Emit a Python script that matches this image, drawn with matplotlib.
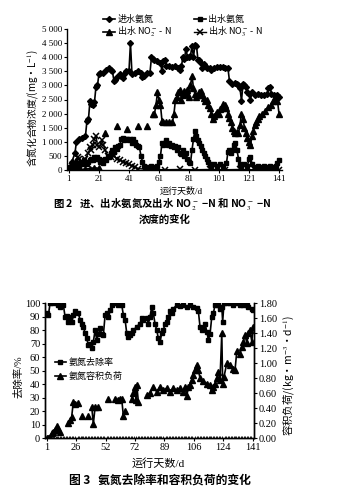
import numpy as np
import matplotlib
matplotlib.use("Agg")
import matplotlib.pyplot as plt

plt.rcParams['font.family'] = ['Liberation Serif', 'Noto Sans CJK SC', 'DejaVu Sans']
plt.rcParams['mathtext.fontset'] = 'stix'

nan = np.nan
CJK = ['Noto Sans CJK SC', 'DejaVu Sans']

# ---------------- Figure 2 data (day, mg/L) ----------------
inf_day = [1, 3, 5, 6, 8, 10, 12, 13, 14, 15, 16, 17, 18, 19, 20, 21, 22, 24, 26, 28, 29, 30, 31, 32, 33,
           35, 36, 37, 38, 39, 41, 42, 43, 45, 47, 49, 50, 51, 53, 55, 56, 57, 58, 60, 62, 63, 64, 65, 66,
           68, 70, 72, 74, 75, 76, 77, 78, 79, 80, 81, 82, 83, 84, 85, 86, 87, 88, 89, 90, 91, 92, 93, 95,
           96, 98, 100, 102, 104, 105, 107, 108, 110, 112, 113, 114, 115, 116, 117, 118, 119, 120, 121,
           122, 123, 125, 127, 129, 131, 133, 134, 135, 136, 138, 140, 141]
inf_nh4 = [50, 300, 600, 1000, 1100, 1150, 1200, 1750, 1800, 2450, 2350, 2300, 2400, 2950, 3000, 3400,
           3450, 3450, 3550, 3600, 3550, 3500, 3150, 3200, 3300, 3400, 3350, 3250, 3400, 3500, 3500, 4500,
           3400, 3450, 3500, 3450, 3300, 3350, 3450, 3450, 4000, 3950, 3900, 3850, 3800, 3500, 3850, 3900,
           3700, 3700, 3650, 3700, 3600, 3550, 3700, 4000, 3950, 4300, 4000, 4000, 4050, 4400, 4000, 4450,
           4400, 3900, 3900, 3800, 3600, 3750, 3700, 3600, 3600, 3550, 3600, 3650, 3650, 3650, 3600, 3600,
           3150, 3050, 3100, 3050, 3000, 2900, 2450, 3050, 3000, 2950, 2750, 2700, 2500, 2750, 2650, 2700,
           2650, 2650, 2700, 2900, 2950, 2700, 2650, 2650, 2600]

eff_day = list(range(1, 53)) + [54, 56, 58, 60, 61, 62, 63, 64, 65, 66, 67, 68, 69, 70, 71, 72, 73, 74,
           75, 76, 77, 78, 79, 80, 81, 82, 83, 84, 85, 86, 87, 88, 89, 90, 91, 92, 93, 94, 95, 96, 98,
           100, 102, 104, 106, 107, 108, 109, 110, 111, 112, 113, 114, 115, 116, 118, 120, 121, 122, 123,
           125, 127, 129, 131, 133, 135, 137, 139, 140, 141]
eff_nh4 = [50, 100, 150, 80, 200, 100, 250, 150, 300, 200, 350, 250, 200, 300, 350, 400, 350, 450, 400,
           450, 400, 300, 350, 250, 400, 350, 500, 450, 600, 700, 650, 800, 750, 850, 900, 1100, 1150, 1050,
           1100, 1100, 1050, 1100, 950, 1100, 1000, 900, 850, 800, 500, 300, 150, 120,
           100, 150, 100, 150, 300, 500, 950, 900, 950, 1050, 900, 950, 850, 900, 800, 850, 700, 800, 600,
           550, 700, 500, 600, 400, 300, 250, 700, 1100, 1400, 1200, 1050, 950, 850, 700, 600, 500, 400,
           300, 200, 150, 200, 150, 200, 150, 250, 650, 700, 600, 700, 900, 950, 700, 400, 200, 150, 200,
           150, 400, 450, 200, 100, 150, 120, 150, 100, 150, 120, 150, 250, 350]

no2_day = [1, 3, 5, 8, 12, 15, 18, 21, 22, 25, 26, 33, 34, 40, 41, 47, 48, 53, 54,
           57, 58, 59, 60, 61, 62, 63, 64, 66, 68, 70, 71, 72, 73, 74, 75, 76, 77, 78, 79, 80, 81, 82,
           83, 84, 85, 86, 87, 88, 89, 90, 91, 92, 93, 94, 95, 96, 97, 98, 99, 100, 101, 102, 103, 104,
           105, 106, 107, 108, 109, 110, 111, 112, 113, 114, 115, 116, 117, 118, 119, 120, 121, 122, 123,
           124, 125, 126, 127, 128, 130, 132, 134, 136, 137, 138, 139, 140, 141]
no2_n = [0, 20, 30, 20, 30, 50, 80, 60, nan, 1300, nan, 1550, nan, 1450, nan, 1550, nan, 1550, nan,
         2000, 2000, 2300, 2750, 2500, 2300, 1750, 1700, 1700, 1700, 1700, 2000, 2500, 2600, 2750, 2850,
         2500, 2650, 2800, 2700, 2850, 2600, 3000, 3350, 2900, 2700, 2600, 2650, 2750, 2800, 2650, 2550,
         2450, 2500, 2300, 2200, 2000, 1800, 1900, 2000, 2050, 2000, 2150, 2200, 2350, 2300, 2200, 2000,
         1850, 1700, 1500, 1400, 1300, 1350, 1300, 1600, 2000, 1800, 1500, 1300, 1150, 1000, 900, 1200,
         1400, 1600, 1700, 1800, 1900, 2000, 2100, 2250, 2300, 2450, 2500, 2600, 2450, 2000]

no3_day = [1, 3, 5, 7, 8, 10, 12, 14, 15, 16, 17, 18, 19, 20, 21, 23, 24, 25, 27, 29, 31, 33, 35, 37, 39,
           41, 43, 45, 47, 55, 65, 75, 85, 95, 105, 115, 125, 135, 141]
no3_n = [50, 150, 300, 450, 400, 250, 400, 600, 800, 700, 900, 1100, 1200, 900, 800, 1050, 900, 700, 500,
         450, 500, 400, 350, 300, 250, 200, 150, 100, 50, 20, 10, 20, 10, 20, 10, 20, 10, 20, 10]

f2_xticks = [1, 21, 41, 61, 81, 101, 121, 141]
f2_yticks = [0, 500, 1000, 1500, 2000, 2500, 3000, 3500, 4000, 4500, 5000]
f2_ylabels = ['0', '500', '1 000', '1 500', '2 000', '2 500', '3 000', '3 500', '4 000', '4 500', '5 000']

# ---------------- Figure 3 data (category position) ----------------
rem_pos = [1, 2.1, 3.3, 5.5, 7.8, 8.9, 10, 12.3, 13.5, 14.6, 15.7, 16.9, 18, 19.1, 20.3, 22.5, 23.7,
           24.8, 25.9, 27.1, 28.2, 29.3, 30.5, 31.6, 32.7, 33.9, 35, 36.1, 37.3, 38.4, 39.5, 40.7, 41.8,
           42.9, 44.1, 45.2, 47.5, 49.7, 52, 53.1, 54.3, 55.4, 56.5, 57.7, 58.8, 59.9, 62.2, 64.4, 65.6,
           66.7, 69, 70.1, 71.2, 72.4, 73.5, 74.6, 75.8, 76.9, 78, 79.2, 80.3, 81.4, 82.6, 83.7, 84.8,
           85.9, 87.1, 89.4, 91.6, 93.9, 96.2, 98.4, 100.7, 103, 104.1, 105.2, 106.4, 107.5, 108.6,
           109.8, 110.9, 112, 113.2, 114.3, 115.4, 116.6, 117.7, 118.8, 120, 120.6, 121.5, 123.4, 125.6,
           127.9, 130.2, 132.4, 134.7, 137, 138.1, 140.4, 141.5]
rem_val = [92.6, 91, 100, 100, 100, 98.8, 97.5, 98.8, 90, 90.6, 86.4, 90, 86, 91, 94, 92.6, 87.7, 85,
           82.7, 77.8, 74, 69, 70, 66.7, 71.6, 80, 73, 77, 81.5, 77, 76.5, 91.4, 92.6, 90, 95, 98.8, 100,
           98.8, 98.8, 91.4, 87.7, 77.8, 75, 76.5, 78, 80, 82.7, 85, 89, 87.7, 89, 85, 90, 97.5, 92.6, 85,
           80, 74, 71.6, 77.8, 80, 85, 86.4, 90, 94, 92.6, 96, 98.8, 98, 98.8, 97.5, 98.8, 97.5, 96.5, 94,
           82.7, 80, 81.5, 85, 79, 73, 77, 90, 92.6, 98.8, 100, 99, 96, 97.5, 86.4, 100, 100, 100, 99,
           100, 99, 98.8, 98.8, 97.5, 96, 95]

load_pos = [1, 2.1, 3.3, 4.4, 5.5, 6.7, 7.8, 8.9, 10, 12, 15.7, 16.9, 18, 19.1, 20.3, 22.5, 23.5, 24.8,
            26, 29.3, 30.5, 31.6, 32.7, 33.9, 35, 36.1, 38, 42.9, 45, 47.5, 49.7, 50.9, 52, 53.1, 54.3,
            56, 58.8, 59.9, 61, 61.7, 62.2, 63.3, 66, 69, 71.2, 73.5, 75.8, 78, 80.3, 82.6, 84.8, 87.1,
            89.4, 91.6, 93.9, 95, 96.2, 97.3, 98.4, 99.6, 100.7, 101.8, 103, 104.1, 105.2, 107.5, 109.8,
            112, 113.2, 114.3, 115.4, 116.6, 117.7, 118.8, 120, 120.6, 121.5, 123.4, 125.6, 127.9, 129,
            130.2, 132.4, 133.6, 134.7, 135.8, 137, 138.1, 139.2, 140.4, 141.5]
load_val = [0.0, 0.0, 0.02, 0.07, 0.09, 0.11, 0.16, 0.12, 0.09, nan, 0.20, 0.24, 0.29, 0.49, 0.46, 0.47,
            nan, 0.30, nan, 0.30, nan, 0.42, 0.19, 0.42, nan, 0.42, nan, 0.53, nan, 0.53, 0.51, 0.53, 0.52,
            0.30, 0.36, nan, 0.53, 0.60, 0.69, 0.51, 0.71, 0.49, nan, 0.58, 0.60, 0.69, 0.62, 0.69, 0.64,
            0.67, 0.62, 0.67, 0.64, 0.67, 0.62, 0.69, 0.56, 0.69, 0.71, 0.78, 0.84, 0.91, 0.98, 0.91, 0.80,
            0.76, 0.73, 0.71, 0.64, 0.69, 0.73, 0.80, 0.89, 0.78, 1.40, 0.73, 0.82, 1.00, 0.98, 0.93, 0.91,
            1.16, 1.13, 1.22, 1.29, 1.38, 1.27, 1.40, 1.44, 1.29, 1.49]

f3_tickpos = [1, 21, 41, 61, 81, 101, 121, 141]
f3_ticklabels = ['1', '26', '52', '72', '89', '106', '124', '141']
f3_lticks = [0, 10, 20, 30, 40, 50, 60, 70, 80, 90, 100]
f3_rticks = [0.0, 0.2, 0.4, 0.6, 0.8, 1.0, 1.2, 1.4, 1.6, 1.8]

# ---------------- drawing ----------------
W, H = 352, 499
fig = plt.figure(figsize=(W / 100, H / 100), dpi=100)

def fx(px):
    return px / W

def fy(py):
    return 1 - py / H

k = 'black'
# ---- Figure 2 ----
ax1 = fig.add_axes([fx(67), fy(170), (282 - 67) / W, 141 / H])
ms = 3.0
l_inf, = ax1.plot(inf_day, inf_nh4, color=k, lw=1.2, marker='D', ms=ms, mfc=k, mec=k)
l_eff, = ax1.plot(eff_day, eff_nh4, color=k, lw=1.2, marker='s', ms=ms + 0.4, mfc=k, mec=k)
l_no2, = ax1.plot(no2_day, no2_n, color=k, lw=1.2, marker='^', ms=ms + 0.8, mfc=k, mec=k)
l_no3, = ax1.plot(no3_day, no3_n, color=k, lw=1.0, marker='x', ms=ms + 0.8, mew=1.1, mfc=k, mec=k)
ax1.set_xlim(-0.3, 143)
ax1.set_ylim(0, 5000)
ax1.set_xticks(f2_xticks)
ax1.set_xticklabels([str(t) for t in f2_xticks])
ax1.set_yticks(f2_yticks)
ax1.set_yticklabels(f2_ylabels)
for s in ['top', 'right']:
    ax1.spines[s].set_visible(False)
for s in ['left', 'bottom']:
    ax1.spines[s].set_linewidth(1.0)
ax1.tick_params(axis='both', labelsize=6.5, length=2, width=0.8, pad=1.5, direction='out')

fig.legend(handles=[l_inf, l_no2, l_eff, l_no3],
           labels=['进水氨氮', '出水 NO$_2^-$ - N', '出水氨氮', '出水 NO$_3^-$ - N'],
           ncol=2, loc='center', bbox_to_anchor=(fx(183), fy(27)), frameon=False,
           prop={'family': CJK, 'size': 6.5}, handlelength=1.3, handletextpad=0.3,
           columnspacing=2.4, labelspacing=0.1, borderpad=0.1)

fig.text(fx(33), fy(108), '含氮化合物浓度/(mg·L$^{-1}$)', rotation=90, ha='center', va='center',
         fontsize=7, family=CJK)
fig.text(fx(181), fy(191), '运行天数/d', ha='center', va='center', fontsize=6.5)
fig.text(fx(162), fy(204), '图 2   进、出水氨氮及出水 NO$_2^-$ −N 和 NO$_3^-$ −N',
         ha='center', va='center', fontsize=7.5, fontweight='bold', family=CJK)
fig.text(fx(165), fy(220), '浓度的变化', ha='center', va='center', fontsize=7.5, fontweight='bold',
         family=CJK)

# ---- Figure 3 ----
ax2 = fig.add_axes([fx(45), fy(438.3), (254 - 45) / W, 135 / H])
ax3 = ax2.twinx()
l_rem, = ax2.plot(rem_pos, rem_val, color=k, lw=1.2, marker='s', ms=3.4, mfc=k, mec=k)
l_load, = ax3.plot(load_pos, load_val, color=k, lw=1.2, marker='^', ms=4.0, mfc=k, mec=k)
ax2.set_xlim(-0.16, 141.9)
ax2.set_ylim(0, 100)
ax3.set_ylim(0, 1.8)
ax2.set_xticks(f3_tickpos)
ax2.set_xticklabels(f3_ticklabels)
ax2.set_xticks(np.arange(1, 142, 1), minor=True)
ax2.set_yticks(f3_lticks)
ax3.set_yticks(f3_rticks)
ax3.set_yticklabels(['%.2f' % v for v in f3_rticks])
for a in (ax2, ax3):
    a.spines['top'].set_visible(False)
    for s in ['left', 'right', 'bottom']:
        a.spines[s].set_linewidth(1.0)
ax2.tick_params(axis='both', labelsize=7.5, length=2, width=0.8, pad=1.5, direction='out')
ax2.tick_params(axis='x', which='minor', direction='in', length=1.5, width=0.6)
ax3.tick_params(axis='y', labelsize=7.5, length=2, width=0.8, pad=1.5, direction='out')

ax2.legend(handles=[l_rem, l_load], labels=['氨氮去除率', '氨氮容积负荷'], loc='center left',
           bbox_to_anchor=(0.02, 0.51), frameon=False, prop={'family': CJK, 'size': 6.5},
           handlelength=1.3, handletextpad=0.3, labelspacing=0.5, borderpad=0.1)

fig.text(fx(18), fy(377), '去除率/%', rotation=90, ha='center', va='center', fontsize=7.5)
fig.text(fx(289), fy(376), '容积负荷/(kg·m$^{-3}$·d$^{-1}$)', rotation=90, ha='center', va='center',
         fontsize=7.5, family=CJK)
fig.text(fx(158), fy(463), '运行天数/d', ha='center', va='center', fontsize=8)
fig.text(fx(160), fy(481), '图 3   氨氮去除率和容积负荷的变化', ha='center', va='center', fontsize=8.5,
         fontweight='bold', family=CJK)

fig.savefig('out.png', dpi=100)
